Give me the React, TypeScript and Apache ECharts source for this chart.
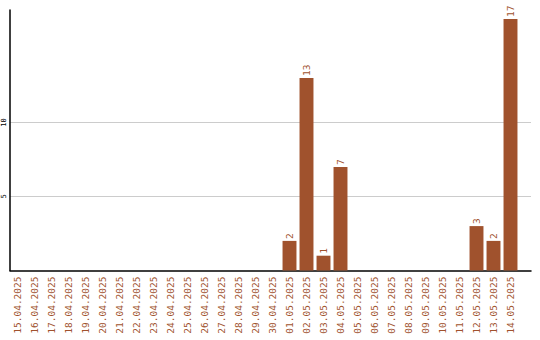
import React, { useEffect, useRef } from "react";
import * as echarts from "echarts";

const dates = [
  "15.04.2025", "16.04.2025", "17.04.2025", "18.04.2025", "19.04.2025",
  "20.04.2025", "21.04.2025", "22.04.2025", "23.04.2025", "24.04.2025",
  "25.04.2025", "26.04.2025", "27.04.2025", "28.04.2025", "29.04.2025",
  "30.04.2025", "01.05.2025", "02.05.2025", "03.05.2025", "04.05.2025",
  "05.05.2025", "06.05.2025", "07.05.2025", "08.05.2025", "09.05.2025",
  "10.05.2025", "11.05.2025", "12.05.2025", "13.05.2025", "14.05.2025",
];

const counts = [
  0, 0, 0, 0, 0, 0, 0, 0, 0, 0,
  0, 0, 0, 0, 0, 0, 2, 13, 1, 7,
  0, 0, 0, 0, 0, 0, 0, 3, 2, 17,
];

const shownTicks = [5, 10];
const yMax = 17.6;

const BAR = "#a0522d";
const MONO = "'DejaVu Sans Mono', 'Liberation Mono', monospace";

export default function App() {
  const ref = useRef<HTMLDivElement>(null);

  useEffect(() => {
    if (!ref.current) return;
    const chart = echarts.init(ref.current, null, { renderer: "svg" });
    chart.setOption({
      animation: false,
      grid: [
        // bars and date labels
        { left: 9, top: 10, width: 510, height: 260.5, containLabel: false },
        // frame: axis lines and gridlines run a little past the last bar
        { left: 10, top: 10, width: 521, height: 260.5, containLabel: false },
      ],
      xAxis: [
        {
          type: "category",
          gridIndex: 0,
          data: dates,
          axisLine: { show: false },
          axisTick: { show: false },
          axisLabel: {
            rotate: 90,
            interval: 0,
            color: BAR,
            fontFamily: MONO,
            fontSize: 9.5,
            margin: 6,
          },
        },
        {
          type: "value",
          gridIndex: 1,
          min: 0,
          max: 1,
          axisLine: { show: true, onZero: false, lineStyle: { color: "#000", width: 1.5 } },
          axisTick: { show: false },
          axisLabel: { show: false },
          splitLine: { show: false },
        },
      ],
      yAxis: [
        {
          type: "value",
          gridIndex: 0,
          min: 0,
          max: yMax,
          show: false,
        },
        {
          type: "value",
          gridIndex: 1,
          min: 0,
          max: yMax,
          interval: 5,
          axisLine: { show: true, onZero: false, lineStyle: { color: "#000", width: 1.5 } },
          axisTick: { show: false },
          splitLine: {
            show: true,
            lineStyle: {
              color: ["rgba(0,0,0,0)", "#cccccc", "#cccccc", "rgba(0,0,0,0)", "rgba(0,0,0,0)"],
              width: 1,
            },
          },
          axisLabel: {
            rotate: 90,
            color: "#000",
            fontFamily: MONO,
            fontSize: 7,
            margin: 3,
            formatter: (v: number) => (shownTicks.includes(v) ? String(v) : ""),
          },
        },
      ],
      series: [
        {
          type: "bar",
          xAxisIndex: 0,
          yAxisIndex: 0,
          data: counts,
          barCategoryGap: "18%",
          itemStyle: { color: BAR },
          label: {
            show: true,
            position: "top",
            rotate: 90,
            align: "left",
            verticalAlign: "middle",
            distance: 2,
            color: BAR,
            fontFamily: MONO,
            fontSize: 9.5,
            formatter: (p: any) => (p.value > 0 ? String(p.value) : ""),
          },
        },
      ],
    });
    return () => chart.dispose();
  }, []);

  return <div ref={ref} style={{ width: 540, height: 340, position: "absolute", left: 0, top: 0, background: "#fff" }} />;
}
